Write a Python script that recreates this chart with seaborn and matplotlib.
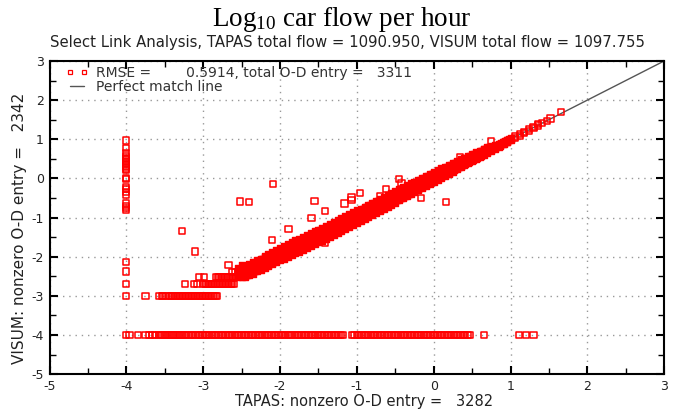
import numpy as np
import pandas as pd
import matplotlib
matplotlib.use("Agg")
import matplotlib.pyplot as plt
import seaborn as sns
from matplotlib.lines import Line2D
from matplotlib.ticker import MultipleLocator

# ---------------- data ----------------
title = "Log$_\\mathrm{10}$ car flow per hour"
subtitle = "Select Link Analysis, TAPAS total flow = 1090.950, VISUM total flow = 1097.755"
xlabel = "TAPAS: nonzero O-D entry =   3282"
ylabel = "VISUM: nonzero O-D entry =   2342"
legend_points = "RMSE =        0.5914, total O-D entry =   3311"
legend_line = "Perfect match line"
x_ticks = [-5, -4, -3, -2, -1, 0, 1, 2, 3]
y_ticks = [-5, -4, -3, -2, -1, 0, 1, 2, 3]

# main diagonal band: each row is "x  y1 y2 ..."
band_rows = """
-2.55 -2.52 -2.40 -2.30
-2.50 -2.52 -2.40 -2.30 -2.22
-2.45 -2.52 -2.42 -2.33 -2.24
-2.40 -2.47 -2.37 -2.28 -2.19
-2.35 -2.43 -2.33 -2.22 -2.14
-2.30 -2.37 -2.27 -2.18 -2.09
-2.25 -2.33 -2.22 -2.13 -2.05
-2.20 -2.28 -2.17 -2.08 -1.99
-2.15 -2.24 -2.13 -2.03 -1.94
-2.10 -2.19 -2.08 -1.98 -1.89
-2.05 -2.14 -2.03 -1.93 -1.84
-2.00 -2.09 -1.98 -1.88 -1.77
-1.95 -2.05 -1.94 -1.84 -1.72
-1.90 -2.00 -1.89 -1.79 -1.68
-1.85 -1.96 -1.85 -1.74 -1.63
-1.80 -1.91 -1.80 -1.69 -1.58
-1.75 -1.87 -1.75 -1.65 -1.54
-1.70 -1.82 -1.71 -1.60 -1.50
-1.65 -1.78 -1.66 -1.55 -1.45
-1.60 -1.73 -1.61 -1.50 -1.40
-1.55 -1.68 -1.57 -1.45 -1.35
-1.50 -1.63 -1.52 -1.41 -1.31
-1.45 -1.59 -1.47 -1.36 -1.27
-1.40 -1.54 -1.42 -1.31 -1.22
-1.35 -1.49 -1.37 -1.27 -1.17
-1.30 -1.44 -1.33 -1.22 -1.12
-1.25 -1.39 -1.28 -1.17 -1.07
-1.20 -1.34 -1.23 -1.12 -1.02
-1.15 -1.29 -1.18 -1.07 -0.97
-1.10 -1.24 -1.13 -1.02 -0.92
-1.05 -1.19 -1.08 -0.97 -0.87
-1.00 -1.14 -1.03 -0.92 -0.82
-0.95 -1.08 -0.98 -0.87 -0.77
-0.90 -1.03 -0.93 -0.82 -0.72
-0.85 -0.98 -0.88 -0.77 -0.67
-0.80 -0.93 -0.83 -0.72 -0.62
-0.75 -0.88 -0.78 -0.67 -0.57
-0.70 -0.83 -0.73 -0.62 -0.52
-0.65 -0.77 -0.67 -0.57 -0.47
-0.60 -0.72 -0.62 -0.52 -0.42
-0.55 -0.67 -0.57 -0.47 -0.37
-0.50 -0.62 -0.52 -0.42 -0.32
-0.45 -0.56 -0.47 -0.37 -0.27
-0.40 -0.51 -0.42 -0.32 -0.22
-0.35 -0.46 -0.37 -0.27 -0.17
-0.30 -0.41 -0.32 -0.22 -0.12
-0.25 -0.35 -0.27 -0.17 -0.08
-0.20 -0.30 -0.22 -0.12 -0.03
-0.15 -0.25 -0.17 -0.07 0.02
-0.10 -0.19 -0.11 -0.02 0.07
-0.05 -0.14 -0.06 0.03 0.12
0.00 -0.09 -0.01 0.08 0.17
0.05 -0.04 0.04 0.13 0.21
0.10 0.02 0.09 0.18 0.26
0.15 0.07 0.14 0.22 0.30
0.20 0.12 0.19 0.27 0.35
0.25 0.17 0.24 0.32 0.40
0.30 0.23 0.29 0.37 0.44
0.35 0.28 0.34 0.41 0.49
0.40 0.33 0.39 0.46 0.53
0.45 0.39 0.44 0.51 0.58
0.50 0.44 0.49 0.56 0.62
0.55 0.49 0.54 0.61 0.67
0.60 0.55 0.60 0.65 0.71
0.65 0.60 0.65 0.70 0.75
0.70 0.65 0.70 0.75 0.80
0.75 0.71 0.75 0.80 0.84
0.80 0.76 0.80 0.85
0.85 0.81 0.85 0.89
0.90 0.87 0.90 0.94
0.95 0.92 0.95 0.99
1.00 0.97 1.00 1.04
"""

# further band entries lying between the rows above
band_rows_b = """
-2.475 -2.49 -2.38 -2.27
-2.425 -2.46 -2.35 -2.25
-2.375 -2.41 -2.31 -2.20
-2.325 -2.36 -2.25 -2.15
-2.275 -2.31 -2.20 -2.10
-2.225 -2.27 -2.15 -2.06
-2.175 -2.22 -2.11 -2.01
-2.125 -2.17 -2.06 -1.96
-2.075 -2.12 -2.01 -1.91
-2.025 -2.07 -1.96 -1.86
-1.975 -2.03 -1.91 -1.81
-1.925 -1.98 -1.87 -1.77
-1.875 -1.93 -1.82 -1.72
-1.825 -1.89 -1.77 -1.67
-1.775 -1.84 -1.72 -1.62
-1.725 -1.80 -1.68 -1.58
-1.675 -1.75 -1.63 -1.53
-1.625 -1.70 -1.58 -1.48
-1.575 -1.66 -1.54 -1.43
-1.525 -1.61 -1.49 -1.38
-1.475 -1.56 -1.45 -1.33
-1.425 -1.51 -1.40 -1.29
-1.375 -1.47 -1.35 -1.24
-1.325 -1.42 -1.30 -1.19
-1.275 -1.37 -1.25 -1.14
-1.225 -1.32 -1.20 -1.09
-1.175 -1.27 -1.15 -1.04
-1.125 -1.22 -1.10 -0.99
-1.075 -1.17 -1.05 -0.94
-1.025 -1.12 -1.00 -0.89
-0.975 -1.06 -0.95 -0.84
-0.925 -1.01 -0.90 -0.79
-0.875 -0.96 -0.85 -0.74
-0.825 -0.91 -0.80 -0.69
-0.775 -0.86 -0.75 -0.64
-0.725 -0.81 -0.70 -0.59
-0.675 -0.75 -0.65 -0.54
-0.625 -0.70 -0.60 -0.49
-0.575 -0.65 -0.55 -0.44
-0.525 -0.60 -0.50 -0.39
-0.475 -0.54 -0.45 -0.34
-0.425 -0.49 -0.40 -0.29
-0.375 -0.44 -0.35 -0.24
-0.325 -0.39 -0.30 -0.19
-0.275 -0.33 -0.25 -0.15
-0.225 -0.28 -0.19 -0.10
-0.175 -0.23 -0.14 -0.05
-0.125 -0.17 -0.09 0.00
-0.075 -0.12 -0.04 0.05
-0.025 -0.07 0.01 0.10
0.025 -0.02 0.06 0.15
0.075 0.04 0.11 0.20
0.125 0.09 0.16 0.24
0.175 0.14 0.21 0.29
0.225 0.19 0.26 0.34
0.275 0.25 0.31 0.39
0.325 0.30 0.36 0.43
0.375 0.35 0.41 0.48
0.425 0.41 0.46 0.53
0.475 0.46 0.51 0.57
0.525 0.51 0.56 0.62
0.575 0.57 0.61 0.66
0.625 0.62 0.66 0.71
0.675 0.67 0.71 0.75
0.725 0.72 0.76 0.80
0.775 0.77 0.81
0.825 0.82 0.86
0.875 0.87 0.91
0.925 0.92 0.96
0.975 0.97 1.01
"""

# densest part of the band, more entries
band_rows_c = """
-2.44 -2.46 -2.36 -2.27
-2.39 -2.41 -2.31 -2.22
-2.34 -2.37 -2.26 -2.17
-2.29 -2.32 -2.21 -2.12
-2.24 -2.27 -2.16 -2.07
-2.19 -2.23 -2.12 -2.02
-2.14 -2.18 -2.07 -1.97
-2.09 -2.13 -2.02 -1.92
-2.04 -2.09 -1.97 -1.87
-1.99 -2.04 -1.93 -1.82
-1.94 -1.99 -1.88 -1.78
-1.89 -1.95 -1.83 -1.73
-1.84 -1.90 -1.78 -1.68
-1.79 -1.85 -1.74 -1.63
-1.74 -1.81 -1.69 -1.58
-1.69 -1.76 -1.64 -1.54
-1.64 -1.71 -1.59 -1.49
-1.59 -1.66 -1.55 -1.44
-1.54 -1.61 -1.50 -1.39
-1.49 -1.57 -1.45 -1.35
-1.44 -1.52 -1.40 -1.30
-1.39 -1.47 -1.36 -1.25
-1.34 -1.42 -1.31 -1.20
-1.29 -1.37 -1.26 -1.16
-1.24 -1.32 -1.21 -1.11
-1.19 -1.27 -1.16 -1.06
-1.14 -1.22 -1.11 -1.01
-1.09 -1.17 -1.06 -0.96
-1.04 -1.12 -1.01 -0.91
-0.99 -1.07 -0.96 -0.86
-0.94 -1.02 -0.91 -0.81
-0.89 -0.97 -0.86 -0.76
-0.84 -0.92 -0.81 -0.71
-0.79 -0.87 -0.76 -0.66
-0.74 -0.82 -0.71 -0.61
-0.69 -0.77 -0.66 -0.56
-0.64 -0.71 -0.61 -0.51
-0.59 -0.66 -0.56 -0.46
-0.54 -0.61 -0.51 -0.41
-0.49 -0.56 -0.46 -0.36
-0.44 -0.51 -0.41 -0.31
-0.39 -0.46 -0.36 -0.26
-0.34 -0.41 -0.31 -0.21
-0.29 -0.35 -0.26 -0.17
-0.24 -0.30 -0.21 -0.12
-0.19 -0.25 -0.16 -0.07
-0.14 -0.20 -0.11 -0.02
-0.09 -0.15 -0.06 0.03
-0.04 -0.09 -0.01 0.08
0.01 -0.04 0.05 0.13
0.06 0.01 0.10 0.18
0.11 0.06 0.15 0.22
0.16 0.12 0.20 0.27
0.21 0.17 0.25 0.32
0.26 0.22 0.30 0.36
0.31 0.27 0.35 0.41
0.36 0.32 0.40 0.46
0.41 0.37 0.44 0.50
0.46 0.43 0.49 0.55
0.51 0.48 0.54 0.60
0.56 0.53 0.59 0.65
0.61 0.58 0.64 0.69
0.66 0.64 0.69 0.74
0.71 0.69 0.74 0.78
0.76 0.74 0.79
0.81 0.79 0.84
0.86 0.84 0.89
0.91 0.89 0.94
0.96 0.94 0.99
"""

# sparser upper tail of the band (x, y pairs)
tail_x = [1.06, 1.06, 1.12, 1.12, 1.18, 1.18, 1.24, 1.24, 1.30, 1.30,
          1.36, 1.36, 1.41, 1.47, 1.52, 1.66]
tail_y = [1.03, 1.07, 1.09, 1.13, 1.16, 1.19, 1.22, 1.26, 1.29, 1.32,
          1.35, 1.38, 1.41, 1.47, 1.53, 1.69]

# quantised low-flow rows (x values at fixed y levels)
step_y240_x = [-2.62, -2.58, -2.54]
step_y252_x = [-3.05, -2.99, -2.83, -2.81, -2.79, -2.77, -2.75, -2.73, -2.71,
               -2.69, -2.67, -2.65, -2.63, -2.61, -2.59, -2.57, -2.55]
step_y270_x = [-3.24, -3.12, -3.08, -3.00, -2.98, -2.96, -2.94, -2.92, -2.90,
               -2.88, -2.86, -2.84, -2.82, -2.80, -2.78, -2.76, -2.74, -2.72,
               -2.70, -2.68, -2.66, -2.64, -2.62, -2.60]
step_y300_x = [-3.75, -3.57, -3.54, -3.52, -3.48, -3.45, -3.42, -3.40, -3.38,
               -3.36, -3.34, -3.32, -3.30, -3.28, -3.26, -3.24, -3.22, -3.20,
               -3.18, -3.16, -3.14, -3.12, -3.10, -3.08, -3.06, -3.04, -3.02,
               -3.00, -2.98, -2.96, -2.94, -2.92, -2.90, -2.88, -2.86, -2.84,
               -2.82]

# column of entries with TAPAS = 1e-4 (x = -4)
col_x4_y = [0.97, 0.77, 0.64, 0.58, 0.53, 0.49, 0.45, 0.41, 0.37, 0.33, 0.29,
            0.25, 0.21, 0.02, -0.02, -0.22, -0.28, -0.34, -0.43, -0.64, -0.70,
            -0.76, -0.81, -2.14, -2.38, -2.70, -3.00, -4.00]

# row of entries with VISUM = 1e-4 (y = -4)
row_y4_x = [-3.96, -3.85, -3.75, -3.70, -3.66, -3.63, -3.57, -3.545, -3.52,
            -3.495, -3.47, -3.445, -3.42, -3.40, -3.38, -3.355, -3.33, -3.305,
            -3.28, -3.25, -3.22, -3.19, -3.16, -3.13, -3.10, -3.07, -3.04,
            -3.01, -2.98, -2.95, -2.92, -2.89, -2.86, -2.83, -2.80, -2.77,
            -2.74, -2.71, -2.68, -2.65, -2.62, -2.59, -2.56, -2.53, -2.50,
            -2.47, -2.44, -2.41, -2.38, -2.35, -2.32, -2.29, -2.26, -2.23,
            -2.20, -2.17, -2.14, -2.11, -2.08, -2.05, -2.02, -1.99, -1.96,
            -1.93, -1.90, -1.87, -1.84, -1.81, -1.78, -1.75, -1.72, -1.69,
            -1.66, -1.63, -1.60, -1.57, -1.54, -1.51, -1.48, -1.45, -1.42,
            -1.39, -1.36, -1.33, -1.30, -1.27, -1.24, -1.21, -1.18, -1.06,
            -1.03, -1.00, -0.97, -0.94, -0.91, -0.88, -0.85, -0.82, -0.79,
            -0.76, -0.73, -0.70, -0.67, -0.64, -0.61, -0.58, -0.55, -0.52,
            -0.49, -0.46, -0.43, -0.40, -0.37, -0.34, -0.31, -0.28, -0.25,
            -0.22, -0.19, -0.16, -0.13, -0.10, -0.07, -0.04, -0.01, 0.02,
            0.05, 0.08, 0.11, 0.14, 0.17, 0.20, 0.23, 0.26, 0.29, 0.32,
            0.35, 0.38, 0.41, 0.44, 0.47, 0.66, 1.11, 1.20, 1.30]

# scattered outliers
out_x = [-3.28, -3.11, -2.52, -2.40, -2.09, -2.10, -1.89, -2.67, -1.59, -1.55,
         -1.41, -1.41, -1.16, -1.07, -1.07, -0.96, -0.17, 0.16, 0.24, 0.75,
         -0.70, -0.42, -0.45, -0.62, 0.34]
out_y = [-1.34, -1.87, -0.59, -0.61, -0.15, -1.58, -1.30, -2.21, -1.01, -0.58,
         -0.83, -1.66, -0.64, -0.49, -0.55, -0.38, -0.50, -0.61, 0.16, 0.94,
         -0.45, -0.12, -0.02, -0.28, 0.54]

# perfect match line end points
line_x = [-2.6, 3.0]
line_y = [-2.6, 3.0]

# ---------------- assemble ----------------
bx, by = [], []
for block in (band_rows, band_rows_b, band_rows_c):
    for row in block.strip().splitlines():
        vals = [float(v) for v in row.split()]
        for yv in vals[1:]:
            bx.append(vals[0]); by.append(yv)
band_df = pd.DataFrame({"x": bx, "y": by})

xs, ys = list(tail_x), list(tail_y)
for lvl, arr in [(-2.40, step_y240_x), (-2.52, step_y252_x),
                 (-2.70, step_y270_x), (-3.00, step_y300_x)]:
    xs += arr; ys += [lvl] * len(arr)
xs += [-4.0] * len(col_x4_y); ys += col_x4_y
xs += row_y4_x; ys += [-4.0] * len(row_y4_x)
xs += out_x; ys += out_y
df = pd.DataFrame({"x": xs, "y": ys})
line_df = pd.DataFrame({"x": line_x, "y": line_y})

# ---------------- plot ----------------
sns.set_style("white")
plt.rcParams["font.family"] = ["DejaVu Sans"]
plt.rcParams["mathtext.fontset"] = "custom"
plt.rcParams["mathtext.rm"] = "Liberation Serif"
plt.rcParams["mathtext.it"] = "Liberation Serif:italic"

fig = plt.figure(figsize=(6.84, 4.12), dpi=100)
ax = fig.add_axes([0.0724, 0.092, 0.8986, 0.760])

sns.lineplot(data=line_df, x="x", y="y", ax=ax, color="#555555", lw=1.0,
             zorder=2, legend=False)
# the band is so dense in the original that the open squares merge into solid red
sns.scatterplot(data=band_df, x="x", y="y", ax=ax, marker="s", s=24,
                color="red", edgecolor="red", linewidth=1.0,
                zorder=3, legend=False)
sns.scatterplot(data=df, x="x", y="y", ax=ax, marker="s", s=20,
                facecolor="none", edgecolor="red", linewidth=1.1,
                zorder=3, legend=False)

ax.set_xlim(-5, 3)
ax.set_ylim(-5, 3)
ax.set_xticks(x_ticks)
ax.set_yticks(y_ticks)
ax.set_xticklabels([str(t) for t in x_ticks])
ax.set_yticklabels([str(t) for t in y_ticks])
ax.xaxis.set_minor_locator(MultipleLocator(0.5))
ax.yaxis.set_minor_locator(MultipleLocator(0.5))
ax.tick_params(which="both", direction="in", top=True, right=True,
               bottom=True, left=True, colors="black", labelcolor="#222222",
               labelsize=9)
ax.tick_params(axis="x", which="both", pad=4)
ax.tick_params(axis="y", which="both", pad=4)
ax.tick_params(which="major", length=6, width=1.5)
ax.tick_params(which="minor", length=4, width=1.0)
ax.grid(True, which="major", ls=(0, (1, 3.5)), color="#999999", lw=1.0)
for s in ax.spines.values():
    s.set_color("black")
    s.set_linewidth(1.5)

ax.set_xlabel(xlabel, fontsize=10.5, color="#222222")
ax.set_ylabel(ylabel, fontsize=11, color="#222222")
ax.xaxis.set_label_coords(0.512, -0.063)
ax.yaxis.set_label_coords(-0.037, 0.466)

handles = [
    Line2D([], [], marker="s", ls="none", mfc="none", mec="red", ms=3.5, mew=0.9),
    Line2D([], [], color="#555555", lw=1.0),
]
ax.legend(handles, [legend_points, legend_line], loc="upper left",
          bbox_to_anchor=(0.015, 1.005), frameon=False, fontsize=10,
          numpoints=2, handlelength=1.6, handletextpad=0.6,
          labelspacing=0.0, borderaxespad=0.3, borderpad=0.2,
          labelcolor="#333333")

fig.text(342 / 684, (412 - 26) / 412, title, ha="center", va="baseline",
         fontsize=19.5, family="Liberation Serif", color="black")
fig.text(348 / 684, (412 - 47) / 412, subtitle, ha="center", va="baseline",
         fontsize=10.7, color="#222222")

fig.savefig("out.png", dpi=100)
